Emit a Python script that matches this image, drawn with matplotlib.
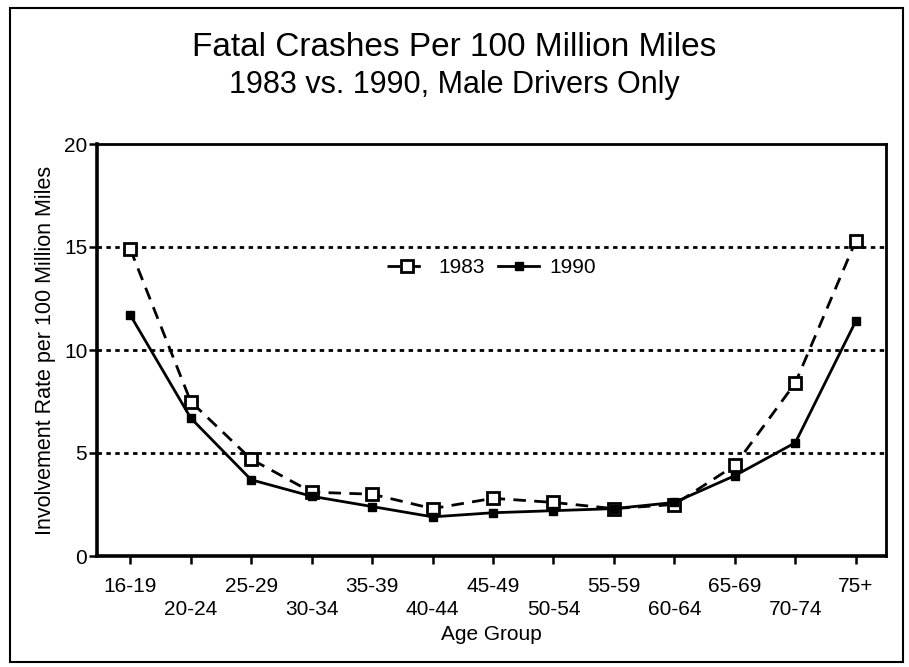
import numpy as np
import matplotlib.pyplot as plt
from matplotlib.patches import Rectangle

plt.rcParams['font.family'] = ['Liberation Sans Narrow', 'Liberation Sans', 'DejaVu Sans']

age_groups = ["16-19", "20-24", "25-29", "30-34", "35-39", "40-44", "45-49",
              "50-54", "55-59", "60-64", "65-69", "70-74", "75+"]
rate_1983 = [14.9, 7.5, 4.7, 3.1, 3.0, 2.3, 2.8, 2.6, 2.3, 2.5, 4.4, 8.4, 15.3]
rate_1990 = [11.7, 6.7, 3.7, 2.9, 2.4, 1.9, 2.1, 2.2, 2.3, 2.6, 3.9, 5.5, 11.4]
y_ticks = [0, 5, 10, 15, 20]


def main():
    fig = plt.figure(figsize=(9.09, 6.67), dpi=100)
    ax = fig.add_axes([97 / 909, 1 - 556 / 667, 789 / 909, 412 / 667])

    x = np.arange(len(age_groups))
    for y in [5, 10, 15]:
        ax.axhline(y, color='black', lw=2, linestyle=(0, (1.6, 1.6)), zorder=1)

    ax.plot(x, rate_1983, color='black', lw=2, linestyle=(0, (4.5, 3)),
            marker='s', ms=8.5, mfc='white', mec='black', mew=2, label='1983', zorder=3)
    ax.plot(x, rate_1990, color='black', lw=2, linestyle='-',
            marker='s', ms=6, mfc='black', mec='black', label='1990', zorder=4)

    ax.set_xlim(-0.55, 12.5)
    ax.set_ylim(0, 20)
    ax.set_yticks(y_ticks)
    ax.set_yticklabels([str(v) for v in y_ticks], fontsize=15)
    ax.set_xticks(x)
    ax.set_xticklabels([])
    for i, lab in enumerate(age_groups):
        ax.text(i, -1.5 if i % 2 == 0 else -2.6, lab, ha='center', va='center',
                fontsize=15, transform=ax.transData)
    ax.tick_params(axis='both', direction='out', length=6, width=1.8, color='black')
    ax.tick_params(axis='y', pad=1)
    for side in ['left', 'bottom']:
        ax.spines[side].set_linewidth(2.6)
    for side in ['top', 'right']:
        ax.spines[side].set_linewidth(2)

    ax.set_ylabel("Involvement Rate per 100 Million Miles", fontsize=15.5, labelpad=6)
    ax.text(0.5, -0.19, "Age Group", ha='center', va='center', fontsize=15,
            transform=ax.transAxes)

    ax.legend(loc='center', bbox_to_anchor=(0.5, 0.70), ncol=2, frameon=False,
              fontsize=15, handlelength=2.0, columnspacing=0.6, handletextpad=0.5)

    fig.text(0.5, 1 - 48 / 667, "Fatal Crashes Per 100 Million Miles",
             ha='center', va='center', fontsize=24)
    fig.text(0.5, 1 - 85 / 667, "1983 vs. 1990, Male Drivers Only",
             ha='center', va='center', fontsize=22)

    fig.patches.append(Rectangle((10 / 909, 1 - 662 / 667), 893 / 909, 654 / 667,
                                 transform=fig.transFigure, fill=False,
                                 edgecolor='black', lw=1.5))

    fig.savefig("out.png", dpi=100)


if __name__ == "__main__":
    main()
